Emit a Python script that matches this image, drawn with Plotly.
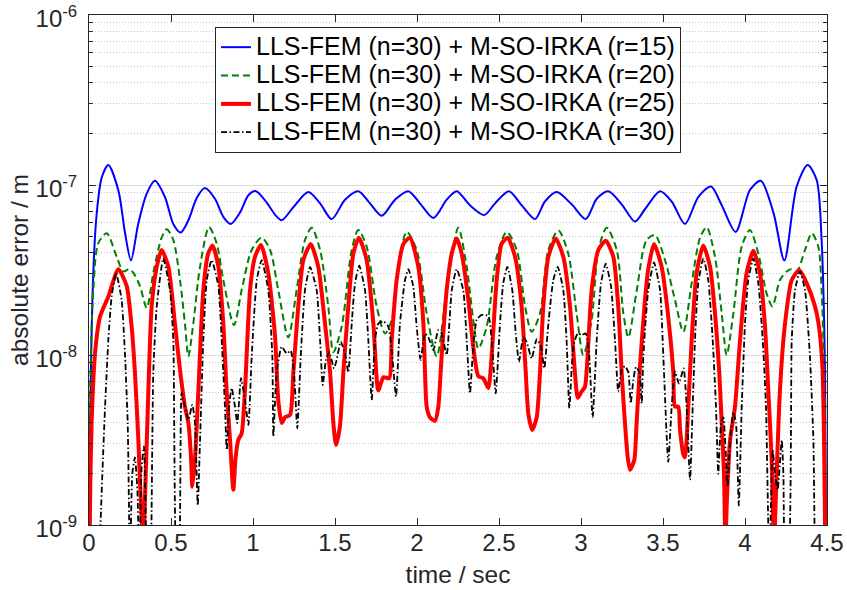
"""
plot.py

Absolute error of LLS-FEM (n=30) combined with M-SO-IRKA reduced models
of different order r, plotted over time on a logarithmic axis.
"""

import plotly.graph_objects as go

# ---------------------------------------------------------------------------
# Data, time in s, error in m
# ---------------------------------------------------------------------------
t_r15 = [0.0, 0.006, 0.026, 0.047, 0.078, 0.118, 0.179, 0.22, 0.256, 0.30,
         0.352, 0.402, 0.463, 0.514, 0.559, 0.606, 0.657, 0.707, 0.768, 0.819,
         0.864, 0.921, 0.972, 1.018, 1.083, 1.134, 1.175, 1.246, 1.337, 1.409,
         1.48, 1.561, 1.642, 1.713, 1.785, 1.866, 1.947, 2.018, 2.10, 2.181,
         2.242, 2.323, 2.41, 2.476, 2.561, 2.638, 2.72, 2.78, 2.852, 2.943,
         3.029, 3.096, 3.167, 3.248, 3.329, 3.39, 3.482, 3.553, 3.634, 3.715,
         3.793, 3.858, 3.943, 4.03, 4.096, 4.173, 4.24, 4.315, 4.382, 4.437,
         4.467, 4.488, 4.5]
err_r15 = [1e-10, 3.2e-9, 3.0e-8, 6.8e-8, 1.11e-7, 1.31e-7, 9.3e-8, 5.2e-8, 3.6e-8, 5.9e-8,
           8.9e-8, 1.06e-7, 8.5e-8, 5.9e-8, 5.25e-8, 6.2e-8, 8.4e-8, 9.6e-8, 8.3e-8, 6.5e-8,
           5.9e-8, 6.9e-8, 8.7e-8, 9.2e-8, 7.9e-8, 6.7e-8, 6.2e-8, 7.4e-8, 9.1e-8, 7.8e-8,
           6.3e-8, 8.2e-8, 9.2e-8, 7.8e-8, 6.6e-8, 8.2e-8, 9.2e-8, 7.8e-8, 6.4e-8, 8.2e-8,
           9.2e-8, 7.6e-8, 6.66e-8, 7.8e-8, 9.2e-8, 7.6e-8, 6.3e-8, 8.0e-8, 9.1e-8, 7.7e-8,
           6.3e-8, 8.3e-8, 9.2e-8, 7.7e-8, 6.1e-8, 7.2e-8, 9.2e-8, 8.0e-8, 5.9e-8, 8.5e-8,
           9.8e-8, 7.6e-8, 5.3e-8, 9.35e-8, 1.06e-7, 6.9e-8, 3.6e-8, 9.8e-8, 1.31e-7, 1.07e-7,
           4.75e-8, 8.0e-9, 1e-10]

t_r20 = [0.0, 0.006, 0.026, 0.057, 0.108, 0.169, 0.209, 0.245, 0.27, 0.311,
         0.352, 0.392, 0.443, 0.474, 0.514, 0.555, 0.585, 0.606, 0.636, 0.677,
         0.732, 0.778, 0.819, 0.884, 0.931, 0.992, 1.053, 1.104, 1.154, 1.215,
         1.266, 1.317, 1.358, 1.409, 1.459, 1.49, 1.541, 1.602, 1.642, 1.693,
         1.754, 1.805, 1.846, 1.886, 1.937, 1.998, 2.059, 2.12, 2.181, 2.252,
         2.303, 2.343, 2.374, 2.425, 2.486, 2.547, 2.608, 2.659, 2.699, 2.75,
         2.801, 2.862, 2.922, 2.973, 3.014, 3.065, 3.106, 3.157, 3.218, 3.258,
         3.289, 3.34, 3.40, 3.451, 3.512, 3.573, 3.624, 3.675, 3.726, 3.766,
         3.817, 3.858, 3.888, 3.929, 3.98, 4.03, 4.081, 4.132, 4.167, 4.213,
         4.254, 4.28, 4.315, 4.366, 4.407, 4.447, 4.467, 4.482, 4.5]
err_r20 = [1e-10, 4.97e-9, 2.41e-8, 4.55e-8, 5.2e-8, 3.78e-8, 3.1e-8, 3.2e-8, 3.05e-8, 2.54e-8,
           1.89e-8, 3.04e-8, 4.9e-8, 5.5e-8, 4.75e-8, 2.76e-8, 1.53e-8, 9.8e-9, 1.53e-8, 3.3e-8,
           5.65e-8, 4.55e-8, 2.76e-8, 1.5e-8, 2.41e-8, 4.15e-8, 4.9e-8, 4.15e-8, 2.41e-8, 1.27e-8,
           2.41e-8, 4.75e-8, 5.6e-8, 4.15e-8, 1.93e-8, 1.04e-8, 1.47e-8, 4.15e-8, 5.43e-8, 4.34e-8,
           1.93e-8, 1.34e-8, 1.61e-8, 3.3e-8, 5.3e-8, 4.15e-8, 1.76e-8, 9.8e-9, 2.41e-8, 5.6e-8,
           3.3e-8, 1.61e-8, 1.09e-8, 1.47e-8, 3.78e-8, 5.3e-8, 4.15e-8, 1.93e-8, 1.37e-8, 1.76e-8,
           4.15e-8, 5.4e-8, 3.96e-8, 1.76e-8, 1.0e-8, 1.61e-8, 4.15e-8, 5.6e-8, 4.15e-8, 1.76e-8,
           1.27e-8, 2.41e-8, 4.75e-8, 5.08e-8, 3.62e-8, 2.11e-8, 1.37e-8, 2.65e-8, 4.9e-8, 5.65e-8,
           3.78e-8, 1.76e-8, 1.0e-8, 1.76e-8, 4.34e-8, 5.43e-8, 3.96e-8, 2.3e-8, 1.93e-8, 2.76e-8,
           3.1e-8, 3.2e-8, 3.1e-8, 4.15e-8, 5.2e-8, 4.34e-8, 2.41e-8, 7.9e-9, 1e-10]

t_r25 = [0.0, 0.006, 0.016, 0.037, 0.067, 0.118, 0.179, 0.23, 0.26, 0.28,
         0.301, 0.317, 0.331, 0.346, 0.362, 0.382, 0.413, 0.443, 0.484, 0.524,
         0.555, 0.585, 0.606, 0.622, 0.63, 0.646, 0.667, 0.697, 0.727, 0.754,
         0.789, 0.819, 0.839, 0.86, 0.88, 0.894, 0.91, 0.931, 0.951, 0.982,
         1.012, 1.049, 1.093, 1.134, 1.154, 1.175, 1.195, 1.226, 1.246, 1.276,
         1.307, 1.352, 1.398, 1.439, 1.47, 1.49, 1.506, 1.53, 1.551, 1.581,
         1.612, 1.646, 1.693, 1.734, 1.764, 1.795, 1.831, 1.846, 1.876, 1.917,
         1.957, 2.008, 2.039, 2.059, 2.079, 2.11, 2.13, 2.15, 2.181, 2.212,
         2.242, 2.272, 2.313, 2.343, 2.374, 2.404, 2.435, 2.455, 2.486, 2.516,
         2.553, 2.598, 2.638, 2.663, 2.679, 2.703, 2.73, 2.75, 2.77, 2.801,
         2.846, 2.892, 2.933, 2.963, 2.98, 3.004, 3.024, 3.04, 3.065, 3.106,
         3.151, 3.197, 3.227, 3.248, 3.268, 3.285, 3.299, 3.325, 3.339, 3.36,
         3.39, 3.41, 3.445, 3.492, 3.532, 3.563, 3.573, 3.593, 3.604, 3.624,
         3.634, 3.654, 3.675, 3.705, 3.746, 3.787, 3.817, 3.843, 3.858, 3.872,
         3.88, 3.892, 3.909, 3.939, 3.97, 4.01, 4.051, 4.091, 4.122, 4.142,
         4.162, 4.177, 4.193, 4.213, 4.244, 4.285, 4.331, 4.376, 4.427, 4.451,
         4.472, 4.482, 4.5]
err_r25 = [1e-10, 1.3e-9, 4.0e-9, 1.03e-8, 1.68e-8, 2.21e-8, 3.2e-8, 2.54e-8, 1.47e-8, 7.9e-9,
           3.16e-9, 1.3e-9, 8e-10, 2.0e-9, 6.2e-9, 1.93e-8, 3.3e-8, 4.15e-8, 3.3e-8, 1.53e-8,
           8.16e-9, 4.97e-9, 3.98e-9, 2.5e-9, 1.68e-9, 2.41e-9, 6.2e-9, 2.41e-8, 3.96e-8, 4.4e-8,
           3.3e-8, 1.53e-8, 6.2e-9, 3.16e-9, 1.61e-9, 2.5e-9, 3.16e-9, 3.46e-9, 6.2e-9, 2.41e-8,
           3.78e-8, 4.44e-8, 3.04e-8, 1.3e-8, 5.43e-9, 3.98e-9, 4.3e-9, 4.44e-9, 7.9e-9, 1.93e-8,
           3.62e-8, 4.5e-8, 3.3e-8, 1.53e-8, 7.9e-9, 3.98e-9, 2.96e-9, 3.8e-9, 7.9e-9, 1.93e-8,
           3.96e-8, 4.9e-8, 3.62e-8, 1.53e-8, 6.2e-9, 7.4e-9, 7.3e-9, 1.23e-8, 2.76e-8, 4.5e-8,
           4.9e-8, 3.3e-8, 1.53e-8, 4.97e-9, 4.3e-9, 4.1e-9, 4.97e-9, 9.8e-9, 2.41e-8, 3.96e-8,
           4.85e-8, 3.96e-8, 2.11e-8, 1.12e-8, 7.5e-9, 7.3e-9, 6.4e-9, 9.8e-9, 2.76e-8, 4.5e-8,
           4.9e-8, 3.78e-8, 1.93e-8, 7.9e-9, 4.5e-9, 3.62e-9, 4.3e-9, 7.9e-9, 1.93e-8, 3.78e-8,
           4.85e-8, 3.78e-8, 1.93e-8, 7.9e-9, 5.6e-9, 6.1e-9, 6.5e-9, 9.8e-9, 2.41e-8, 4.15e-8,
           4.7e-8, 3.78e-8, 1.93e-8, 7.9e-9, 3.98e-9, 2.5e-9, 2.11e-9, 2.41e-9, 3.98e-9, 8.7e-9,
           2.1e-8, 3.2e-8, 4.5e-8, 3.3e-8, 1.68e-8, 7.9e-9, 4.97e-9, 4.97e-9, 3.62e-9, 2.6e-9,
           2.5e-9, 4.97e-9, 1.23e-8, 3.04e-8, 4.4e-8, 3.3e-8, 1.76e-8, 7.9e-9, 3.98e-9, 2.0e-9,
           8e-10, 1.61e-9, 3.16e-9, 4.97e-9, 1.23e-8, 3.04e-8, 4.1e-8, 3.04e-8, 1.47e-8, 6.2e-9,
           2.5e-9, 8e-10, 2.0e-9, 6.2e-9, 1.53e-8, 2.76e-8, 3.16e-8, 2.65e-8, 1.93e-8, 1.47e-8,
           8.5e-9, 3.16e-9, 1e-10]

t_r30 = [0.0, 0.06, 0.067, 0.098, 0.118, 0.138, 0.165, 0.199, 0.22, 0.236,
         0.25, 0.264, 0.28, 0.295, 0.307, 0.321, 0.335, 0.352, 0.372, 0.392,
         0.413, 0.453, 0.494, 0.514, 0.537, 0.545, 0.565, 0.585, 0.606, 0.63,
         0.646, 0.663, 0.677, 0.697, 0.718, 0.748, 0.789, 0.809, 0.829, 0.84,
         0.854, 0.87, 0.89, 0.904, 0.927, 0.951, 0.972, 0.992, 1.023, 1.053,
         1.093, 1.118, 1.124, 1.144, 1.175, 1.205, 1.23, 1.25, 1.27, 1.291,
         1.317, 1.348, 1.388, 1.409, 1.425, 1.445, 1.465, 1.494, 1.51, 1.535,
         1.561, 1.581, 1.602, 1.622, 1.648, 1.683, 1.703, 1.724, 1.744, 1.764,
         1.795, 1.825, 1.846, 1.872, 1.896, 1.927, 1.947, 1.977, 1.998, 2.022,
         2.049, 2.069, 2.10, 2.13, 2.15, 2.181, 2.212, 2.242, 2.282, 2.303,
         2.323, 2.343, 2.364, 2.394, 2.435, 2.455, 2.48, 2.506, 2.526, 2.551,
         2.581, 2.602, 2.622, 2.648, 2.669, 2.699, 2.73, 2.756, 2.776, 2.801,
         2.831, 2.858, 2.892, 2.912, 2.929, 2.953, 2.98, 3.004, 3.029, 3.049,
         3.071, 3.096, 3.122, 3.151, 3.183, 3.207, 3.227, 3.248, 3.268, 3.289,
         3.303, 3.319, 3.335, 3.356, 3.37, 3.38, 3.41, 3.445, 3.482, 3.502,
         3.532, 3.553, 3.573, 3.597, 3.626, 3.642, 3.665, 3.681, 3.695, 3.715,
         3.746, 3.776, 3.803, 3.823, 3.837, 3.854, 3.868, 3.884, 3.894, 3.909,
         3.929, 3.945, 3.962, 3.98, 4.0, 4.02, 4.051, 4.081, 4.108, 4.128,
         4.148, 4.169, 4.183, 4.199, 4.224, 4.234, 4.248, 4.262, 4.285, 4.305,
         4.335, 4.366, 4.396, 4.417, 4.431, 4.5]
err_r30 = [1e-10, 1e-10, 8e-10, 4.97e-9, 1.23e-8, 2.21e-8, 3.04e-8, 2.11e-8, 9.8e-9, 3.98e-9,
           6e-10, 2.0e-9, 2.5e-9, 1.61e-9, 6e-10, 2.2e-9, 2.9e-9, 6e-10, 3e-10, 7.9e-9,
           1.93e-8, 3.7e-8, 2.41e-8, 1.23e-8, 5e-10, 5e-10, 6.0e-9, 4.97e-9, 4.15e-9, 5.1e-9,
           3.98e-9, 1.3e-9, 3.16e-9, 1.23e-8, 2.76e-8, 3.62e-8, 2.54e-8, 1.23e-8, 4.97e-9, 2.76e-9,
           4.97e-9, 6.4e-9, 4.97e-9, 3.98e-9, 7.3e-9, 5.43e-9, 3.88e-9, 9.8e-9, 2.76e-8, 3.62e-8,
           2.41e-8, 9.8e-9, 3.3e-9, 7.9e-9, 1.12e-8, 1.02e-8, 1.06e-8, 7.9e-9, 3.7e-9, 9.8e-9,
           2.41e-8, 3.3e-8, 2.41e-8, 1.23e-8, 6.66e-9, 9.35e-9, 1.04e-8, 8.35e-9, 9.35e-9, 1.2e-8,
           1.02e-8, 7.9e-9, 1.53e-8, 2.65e-8, 3.35e-8, 2.41e-8, 1.23e-8, 5.43e-9, 1.23e-8, 1.53e-8,
           1.58e-8, 1.47e-8, 1.07e-8, 5.7e-9, 1.53e-8, 2.76e-8, 3.2e-8, 2.54e-8, 1.47e-8, 9.35e-9,
           1.34e-8, 1.27e-8, 1.07e-8, 1.4e-8, 1.34e-8, 1.0e-8, 2.41e-8, 3.2e-8, 2.41e-8, 1.23e-8,
           5.95e-9, 1.12e-8, 1.61e-8, 1.72e-8, 1.7e-8, 1.23e-8, 5.95e-9, 1.53e-8, 2.65e-8, 3.3e-8,
           2.41e-8, 1.34e-8, 9.1e-9, 1.27e-8, 1.19e-8, 9.55e-9, 1.24e-8, 1.12e-8, 8.35e-9, 1.53e-8,
           2.76e-8, 3.3e-8, 2.41e-8, 1.23e-8, 4.86e-9, 1.12e-8, 1.34e-8, 1.31e-8, 1.34e-8, 1.02e-8,
           4.3e-9, 1.23e-8, 2.65e-8, 3.45e-8, 2.54e-8, 1.23e-8, 6.1e-9, 8.16e-9, 8.6e-9, 7.9e-9,
           5.2e-9, 7.1e-9, 8.5e-9, 7.9e-9, 5.2e-9, 9.8e-9, 2.41e-8, 3.5e-8, 2.41e-8, 9.8e-9,
           2.35e-9, 4.97e-9, 8.0e-9, 6.8e-9, 8.35e-9, 5.43e-9, 1.84e-9, 4.97e-9, 1.23e-8, 2.65e-8,
           3.7e-8, 2.76e-8, 1.23e-8, 4.97e-9, 2.0e-9, 3.98e-9, 4.3e-9, 2.5e-9, 1.68e-9, 3.16e-9,
           4.6e-9, 3.98e-9, 1.3e-9, 4.97e-9, 1.53e-8, 2.76e-8, 3.7e-8, 2.65e-8, 1.23e-8, 4.97e-9,
           6e-10, 2.76e-9, 2.0e-9, 1.61e-9, 3.16e-9, 2.0e-9, 6e-10, 6e-10, 1.23e-8, 2.41e-8,
           3.1e-8, 2.41e-8, 9.8e-9, 3.16e-9, 5e-10, 1e-10]

labels = ["LLS-FEM (n=30) + M-SO-IRKA (r=15)",
          "LLS-FEM (n=30) + M-SO-IRKA (r=20)",
          "LLS-FEM (n=30) + M-SO-IRKA (r=25)",
          "LLS-FEM (n=30) + M-SO-IRKA (r=30)"]

x_ticks = [0, 0.5, 1, 1.5, 2, 2.5, 3, 3.5, 4, 4.5]
y_ticks = [1e-9, 1e-8, 1e-7, 1e-6]
y_tick_text = ["10<sup>-9</sup>", "10<sup>-8</sup>", "10<sup>-7</sup>", "10<sup>-6</sup>"]

# ---------------------------------------------------------------------------
# Figure
# ---------------------------------------------------------------------------
FONT = "Liberation Sans, Arial, Helvetica, sans-serif"
AXIS_COLOR = "#262626"


def legend_name(text):
    # legend rows are packed tighter than plotly's default for this text size,
    # so the row height comes from the legend font and the glyph size from here
    return '<span style="font-size:25px">' + text + "</span>"


fig = go.Figure()

# r=15: solid blue
fig.add_trace(go.Scatter(x=t_r15, y=err_r15, name=legend_name(labels[0]), mode="lines",
                         line=dict(color="#0000ff", width=2, shape="spline", smoothing=0.8)))
# r=20: dashed green
fig.add_trace(go.Scatter(x=t_r20, y=err_r20, name=legend_name(labels[1]), mode="lines",
                         line=dict(color="#008000", width=2, dash="7px,4px",
                                   shape="spline", smoothing=0.8)))
# r=25: red, dense dotted line -> looks like a thick solid line
fig.add_trace(go.Scatter(x=t_r25, y=err_r25, name=legend_name(labels[2]), mode="lines",
                         line=dict(color="#ff0000", width=4, shape="spline", smoothing=0.6)))
# r=30: black dash-dot
fig.add_trace(go.Scatter(x=t_r30, y=err_r30, name=legend_name(labels[3]), mode="lines",
                         line=dict(color="#000000", width=1.8, dash="6px,2.5px,1.5px,2.5px",
                                   shape="spline", smoothing=0.5)))

fig.update_layout(
    width=847, height=590,
    margin=dict(l=89, r=20, t=15, b=65),
    paper_bgcolor="white", plot_bgcolor="white",
    font=dict(family=FONT, size=24, color=AXIS_COLOR),
    showlegend=True,
    legend=dict(x=0.1707, y=0.9765, xanchor="left", yanchor="top",
                bgcolor="white", bordercolor=AXIS_COLOR, borderwidth=1,
                font=dict(family=FONT, size=19.5, color="#000000"),
                tracegroupgap=0, itemwidth=30),
)

fig.update_xaxes(
    range=[0, 4.5], tickvals=x_ticks,
    ticks="inside", ticklen=7, tickcolor=AXIS_COLOR,
    ticklabelstandoff=-4,
    showline=True, linecolor=AXIS_COLOR, linewidth=1, mirror="ticks",
    showgrid=False, zeroline=False, automargin=False,
    title=dict(text="time / sec", font=dict(size=24.5), standoff=11),
)

fig.update_yaxes(
    type="log", range=[-9, -5.9999],
    tickvals=y_ticks, ticktext=y_tick_text, ticklabeloverflow="allow",
    ticks="inside", ticklen=7, tickcolor=AXIS_COLOR,
    ticklabelstandoff=6, ticklabelshift=4,
    showline=True, linecolor=AXIS_COLOR, linewidth=1, mirror="ticks",
    showgrid=True, gridcolor="#dcdcdc", gridwidth=1,
    minor=dict(dtick="D1", ticks="inside", ticklen=4, tickcolor=AXIS_COLOR,
               showgrid=True, gridcolor="#c8c8c8", griddash="1px,2px", gridwidth=1),
    zeroline=False, automargin=False,
    title=dict(text="absolute error / m", font=dict(size=24.5), standoff=0),
)

# drop the default page margin so the 847x590 figure fills the window exactly
fig.write_html("out.html", config={"displayModeBar": False},
               post_script="document.body.style.margin = '0';")
